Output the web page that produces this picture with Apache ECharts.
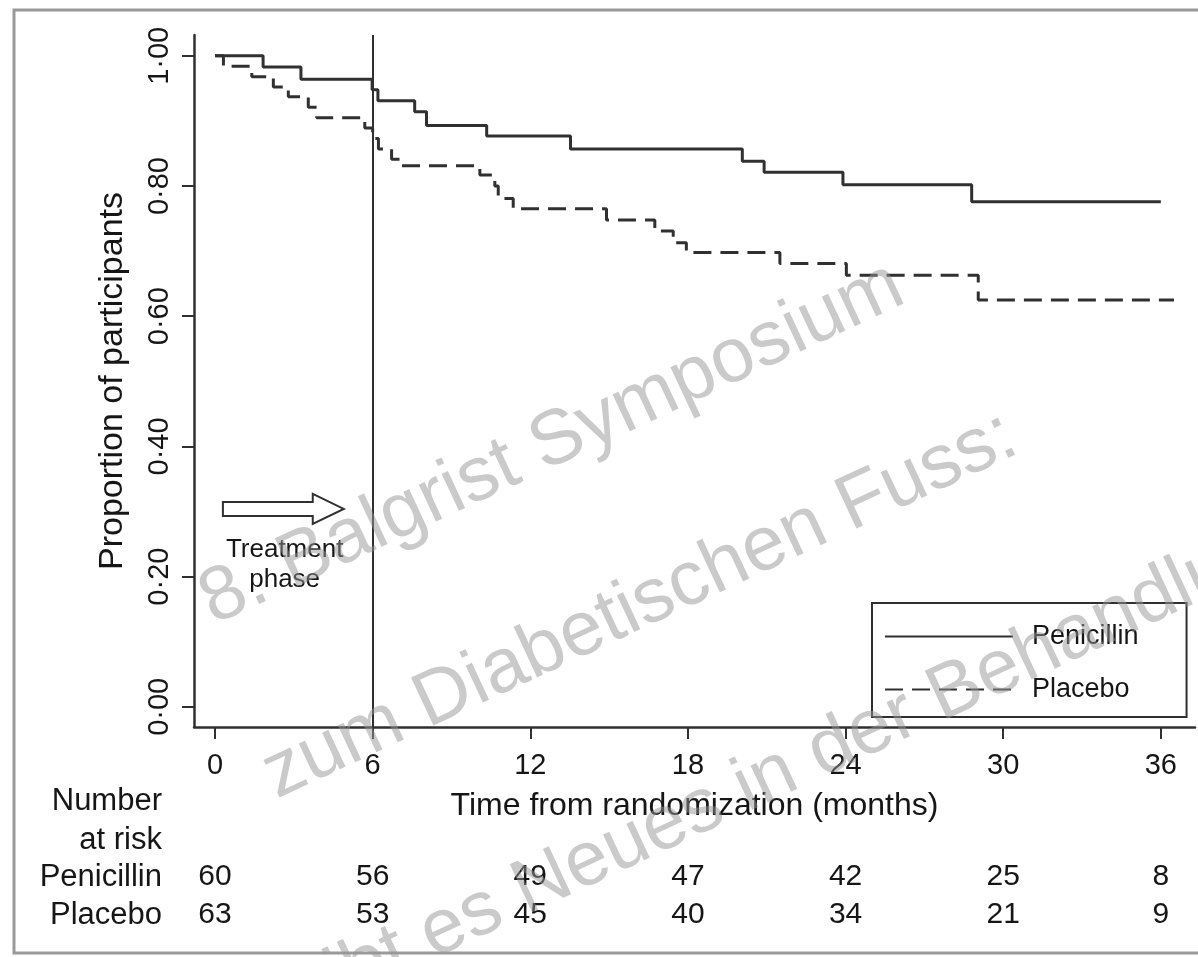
<!DOCTYPE html>
<html>
<head>
<meta charset="utf-8">
<title>Penicillin vs placebo – time to recurrence</title>
<script src="https://cdn.jsdelivr.net/npm/echarts@6/dist/echarts.min.js"></script>
<style>
  html, body { margin: 0; background: #fff; }
  #chart { width: 1198px; height: 957px; }
</style>
</head>
<body>
<div id="chart"></div>
<script>
// Kaplan-Meier steps: month of each drop and proportion after it
const penicillinTimes = [0, 1.83, 3.27, 5.98, 6.2, 7.6, 8.05, 10.34, 13.53, 20.07, 20.9, 23.9, 28.8, 36];
const penicillinSurv = [1, 0.983, 0.964, 0.948, 0.931, 0.914, 0.893, 0.877, 0.857, 0.838, 0.821, 0.802, 0.776, 0.776];

const placeboTimes = [0, 0.32, 1.4, 2.22, 2.79, 3.55, 3.87, 5.7, 6.0, 6.22, 6.72, 7.1, 10.08, 10.65, 10.78, 11.35, 14.9, 16.74, 17.44, 17.94, 21.5, 24.03, 29.05, 36.5];
const placeboSurv = [1, 0.984, 0.968, 0.952, 0.937, 0.921, 0.905, 0.889, 0.873, 0.857, 0.841, 0.831, 0.817, 0.8, 0.781, 0.765, 0.748, 0.731, 0.713, 0.698, 0.681, 0.663, 0.625, 0.625];

// number at risk table
const riskTimes = [0, 6, 12, 18, 24, 30, 36];
const riskPenicillin = [60, 56, 49, 47, 42, 25, 8];
const riskPlacebo = [63, 53, 45, 40, 34, 21, 9];

const xTicks = [0, 6, 12, 18, 24, 30, 36];
const yTicks = [0, 0.2, 0.4, 0.6, 0.8, 1];
const treatmentEnd = 6;

const FONT = '"Liberation Sans", Arial, Helvetica, sans-serif';
const INK = '#161616';
const LINE = '#303030';

const zip = (xs, ys) => xs.map((x, i) => [x, ys[i]]);
const fmtY = v => v.toFixed(2).replace('.', '\u00b7');

const chart = echarts.init(document.getElementById('chart'));
const X_MIN = -0.8, X_MAX = 37.3;

function riskAxis(name, counts, offset) {
  return {
    type: 'value', min: X_MIN, max: X_MAX, position: 'bottom', offset: offset,
    name: name, nameLocation: 'start', nameGap: 32,
    nameTextStyle: { color: INK, fontSize: 31, fontFamily: FONT },
    axisLine: { show: false, onZero: false },
    axisTick: { show: false },
    splitLine: { show: false },
    axisLabel: {
      customValues: riskTimes, margin: 0, verticalAlign: 'middle',
      color: INK, fontSize: 30, fontFamily: FONT,
      formatter: v => String(counts[riskTimes.indexOf(v)])
    }
  };
}

chart.setOption({
  animation: false,
  backgroundColor: '#fff',
  grid: { left: 194, right: 3, top: 35, bottom: 230 },
  legend: {
    orient: 'vertical', left: 872, top: 603,
    padding: [20, 48, 14, 12], itemGap: 26, itemWidth: 128, itemHeight: 20,
    borderColor: LINE, borderWidth: 2, backgroundColor: '#fff',
    itemStyle: { opacity: 0 },
    textStyle: { color: INK, fontSize: 27, fontFamily: FONT, padding: [0, 0, 0, 14] },
    data: ['Penicillin', 'Placebo']
  },
  xAxis: [
    {
      type: 'value', min: X_MIN, max: X_MAX,
      name: 'Time from randomization (months)', nameLocation: 'middle', nameGap: 63,
      nameTextStyle: { color: INK, fontSize: 32, fontFamily: FONT },
      axisLine: { onZero: false, lineStyle: { color: LINE, width: 2.5 } },
      axisTick: { customValues: xTicks, length: 12, lineStyle: { color: LINE, width: 2 } },
      axisLabel: { customValues: xTicks, margin: 24, color: INK, fontSize: 29, fontFamily: FONT },
      splitLine: { show: false }
    },
    riskAxis('Penicillin', riskPenicillin, 150),
    riskAxis('Placebo', riskPlacebo, 188)
  ],
  yAxis: {
    type: 'value', min: -0.031, max: 1.032,
    name: 'Proportion of participants', nameLocation: 'middle', nameGap: 64,
    nameTextStyle: { color: INK, fontSize: 34, fontFamily: FONT },
    axisLine: { onZero: false, lineStyle: { color: LINE, width: 2.5 } },
    axisTick: { customValues: yTicks, length: 12, lineStyle: { color: LINE, width: 2 } },
    axisLabel: { customValues: yTicks, rotate: 90, margin: 20, formatter: fmtY, color: INK, fontSize: 29, fontFamily: FONT },
    splitLine: { show: false }
  },
  series: [
    {
      name: 'Penicillin', type: 'line', step: 'end', symbol: 'none',
      data: zip(penicillinTimes, penicillinSurv),
      lineStyle: { color: LINE, width: 3 },
      itemStyle: { color: LINE },
      markLine: {
        silent: true, symbol: 'none', label: { show: false },
        lineStyle: { color: LINE, width: 2, type: 'solid' },
        data: [{ xAxis: treatmentEnd }]
      }
    },
    {
      name: 'Placebo', type: 'line', step: 'end', symbol: 'none',
      data: zip(placeboTimes, placeboSurv),
      lineStyle: { color: LINE, width: 3, type: [18, 9] },
      itemStyle: { color: LINE }
    }
  ]
});

// treatment-phase arrow, placed in data units
const ARROW_FROM = 0.3, ARROW_TO = 4.9, ARROW_Y = 0.304;
const tail = chart.convertToPixel({ seriesIndex: 0 }, [ARROW_FROM, ARROW_Y]);
const tip = chart.convertToPixel({ seriesIndex: 0 }, [ARROW_TO, ARROW_Y]);
const note = chart.convertToPixel({ seriesIndex: 0 }, [2.65, 0.218]);
const baseX = tip[0] - 31, cy = tail[1];

const wm = (id, text, x, y) => ({
  type: 'text', id: id, x: x, y: y, rotation: 25 * Math.PI / 180, z: 100, silent: true,
  style: {
    text: text, fill: 'rgba(150,150,150,0.5)', fontSize: 77, fontFamily: FONT,
    textAlign: 'center', textVerticalAlign: 'middle', align: 'center', verticalAlign: 'middle'
  }
});

chart.setOption({
  graphic: [
    {
      type: 'rect', id: 'frame', silent: true, z: 50,
      shape: { x: 14, y: 10, width: 1210, height: 943 },
      style: { fill: 'none', stroke: '#9a9a9a', lineWidth: 3 }
    },
    {
      type: 'polygon', id: 'arrow', silent: true,
      shape: {
        points: [
          [tail[0], cy - 7], [baseX, cy - 7], [baseX, cy - 15], [tip[0], cy],
          [baseX, cy + 15], [baseX, cy + 7], [tail[0], cy + 7]
        ]
      },
      style: { fill: '#fff', stroke: LINE, lineWidth: 2 }
    },
    {
      type: 'text', id: 'phase', silent: true, x: note[0], y: note[1],
      style: {
        text: 'Treatment\nphase', fill: INK, fontSize: 26, fontFamily: FONT, lineHeight: 30,
        textAlign: 'center', textVerticalAlign: 'middle', align: 'center', verticalAlign: 'middle'
      }
    },
    {
      type: 'text', id: 'riskTitle', silent: true, x: 162, y: 821,
      style: {
        text: 'Number\nat risk', fill: INK, fontSize: 31, fontFamily: FONT, lineHeight: 39,
        textAlign: 'right', textVerticalAlign: 'middle', align: 'right', verticalAlign: 'middle'
      }
    },
    wm('wm1', '8. Balgrist Symposium', 552, 444),
    wm('wm2', 'zum Diabetischen Fuss:', 640, 606),
    wm('wm3', 'Was gibt es Neues in der Behandlung?', 740, 792)
  ]
});

window.addEventListener('resize', () => chart.resize());
</script>
</body>
</html>
